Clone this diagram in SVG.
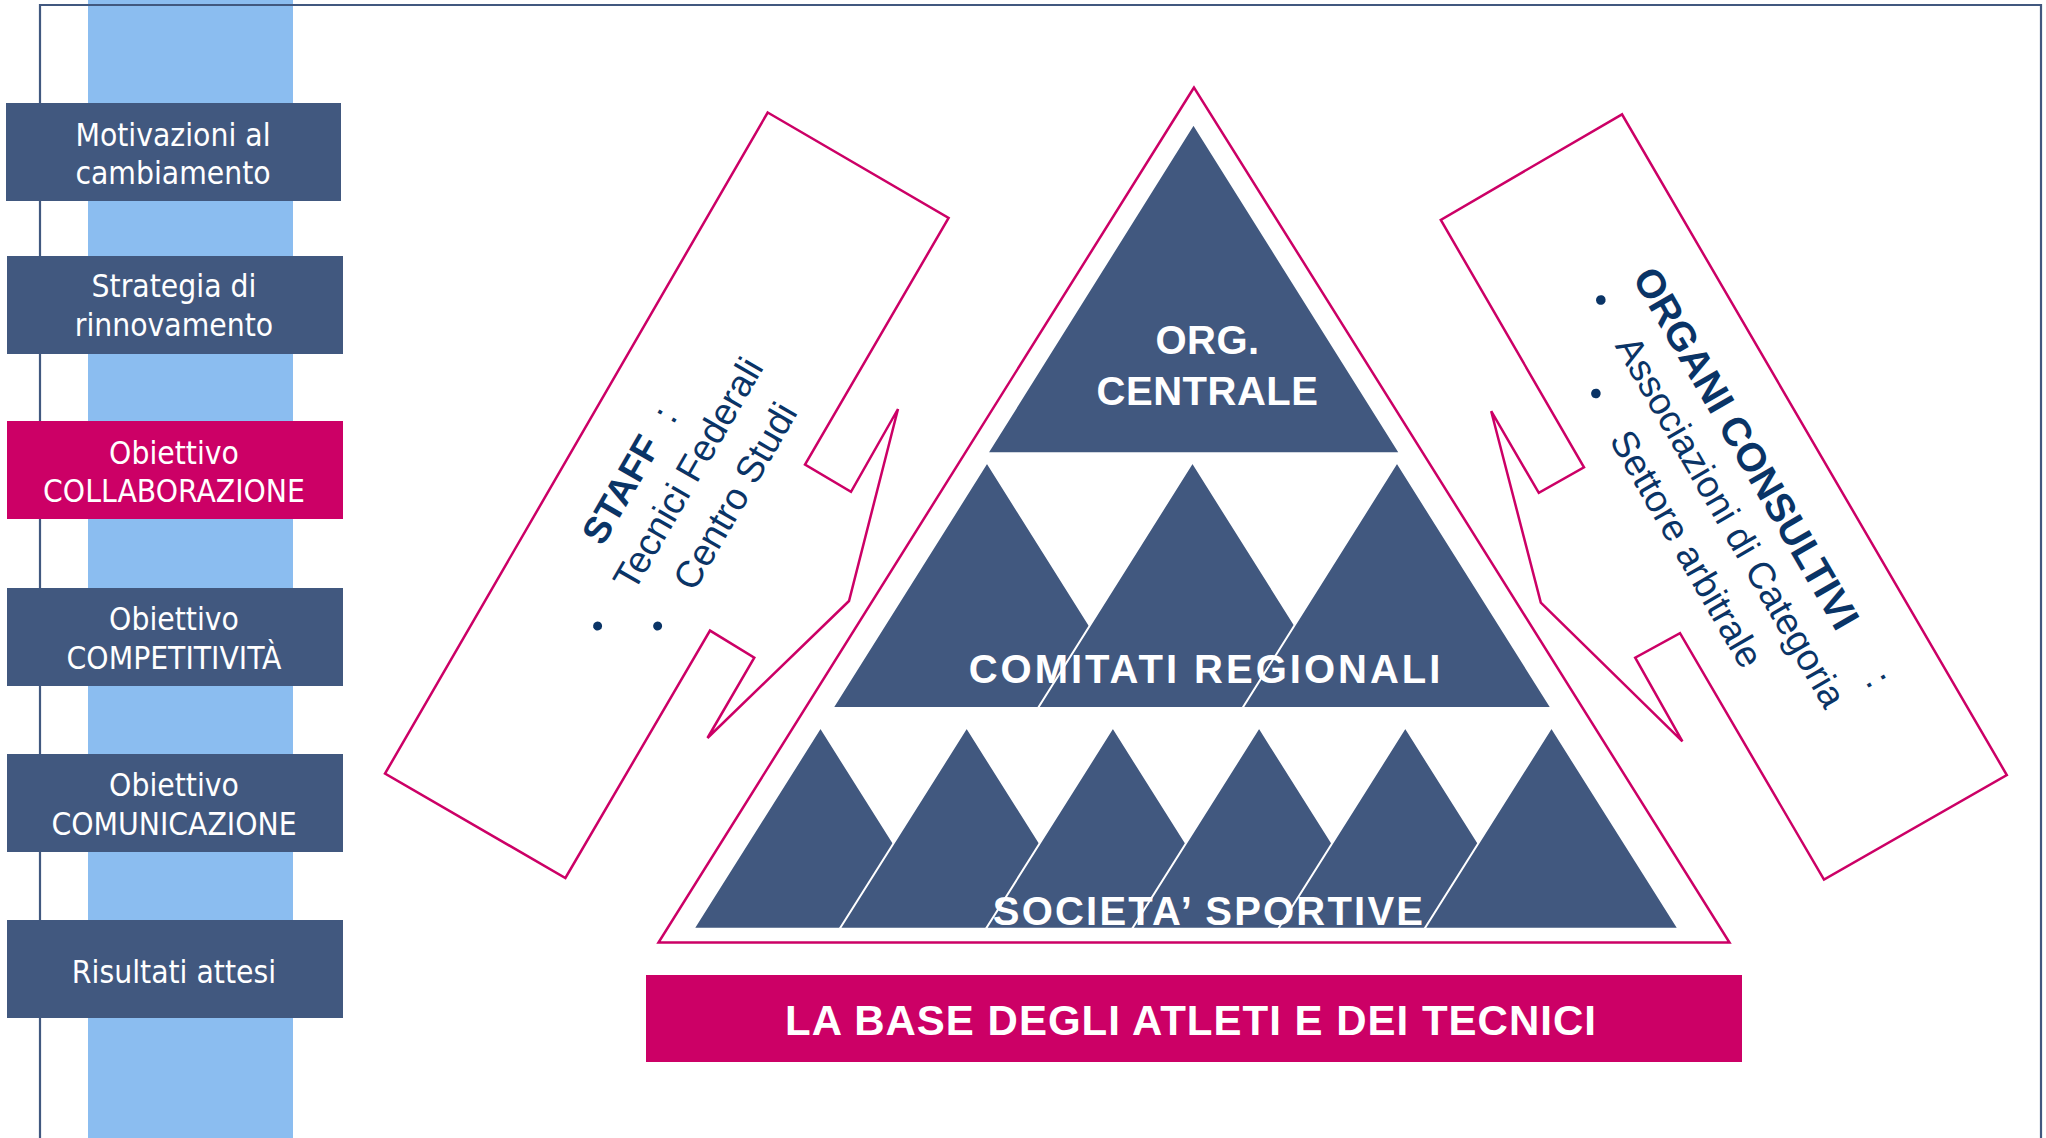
<svg xmlns="http://www.w3.org/2000/svg" width="2046" height="1138" viewBox="0 0 2046 1138">
<style>
.bg{fill:#ffffff}
.band{fill:#8BBDF0}
.frame{fill:none;stroke:#41587F;stroke-width:2.2}
.box{fill:#41587F}
.hl{fill:#CC0066}
.boxtxt{font-family:"DejaVu Sans Condensed","DejaVu Sans","Liberation Sans",sans-serif;font-stretch:condensed;font-size:31.5px;fill:#ffffff;text-anchor:middle}
.tri{fill:#41587F;stroke:#ffffff;stroke-width:2;stroke-linejoin:miter}
.outer{fill:none;stroke:#CC0066;stroke-width:2.5;stroke-linejoin:miter}
.pyr{font-family:"Liberation Sans",Arial,sans-serif;font-weight:bold;font-size:40px;fill:#ffffff;text-anchor:middle}
.callout{fill:none;stroke:#CC0066;stroke-width:2.5;stroke-linejoin:miter}
.ct{font-family:"Liberation Sans",Arial,sans-serif;font-size:37.5px;fill:#0A3466}
.ctb{font-weight:bold}
.dot{fill:#0A3466}
.bar{fill:#CC0066}
.bartxt{font-family:"Liberation Sans",Arial,sans-serif;font-weight:bold;font-size:42px;fill:#ffffff;text-anchor:middle;letter-spacing:1px}
</style>
<rect class="bg" x="0" y="0" width="2046" height="1138"/>
<rect class="band" x="88" y="0" width="205" height="1138"/>
<g id="connectors">
  <path class="frame" d="M40,1138 V5 H2041 V1138"/>
</g>

<g id="step-motivazioni">
  <rect class="box" x="6" y="103" width="335" height="98"/>
  <text class="boxtxt" x="173" y="146">Motivazioni al</text>
  <text class="boxtxt" x="173" y="184">cambiamento</text>
</g>
<g id="step-strategia">
  <rect class="box" x="7" y="256" width="336" height="98"/>
  <text class="boxtxt" x="174" y="297">Strategia di</text>
  <text class="boxtxt" x="174" y="336">rinnovamento</text>
</g>
<g id="step-collaborazione">
  <rect class="hl" x="7" y="421" width="336" height="98"/>
  <text class="boxtxt" x="174" y="464">Obiettivo</text>
  <text class="boxtxt" x="174" y="502">COLLABORAZIONE</text>
</g>
<g id="step-competitivita">
  <rect class="box" x="7" y="588" width="336" height="98"/>
  <text class="boxtxt" x="174" y="630">Obiettivo</text>
  <text class="boxtxt" x="174" y="669">COMPETITIVITÀ</text>
</g>
<g id="step-comunicazione">
  <rect class="box" x="7" y="754" width="336" height="98"/>
  <text class="boxtxt" x="174" y="796">Obiettivo</text>
  <text class="boxtxt" x="174" y="835">COMUNICAZIONE</text>
</g>
<g id="step-risultati">
  <rect class="box" x="7" y="920" width="336" height="98"/>
  <text class="boxtxt" x="174" y="983">Risultati attesi</text>
</g>

<g id="pyramid-outline">
  <polygon class="outer" points="1194,87.5 658.5,942.5 1729.5,942.5"/>
</g>

<g id="org-centrale">
  <polygon class="tri" points="1193.5,124 987.3,453.3 1400,453.3"/>
  <text class="pyr" x="1207.5" y="354" letter-spacing="0.5">ORG.</text>
  <text class="pyr" x="1207.5" y="405" letter-spacing="0.5">CENTRALE</text>
</g>

<g id="comitati-regionali">
  <polygon class="tri" points="987,462.3 832.5,708 1141.5,708"/>
  <polygon class="tri" points="1192.5,462.3 1038,708 1347,708"/>
  <polygon class="tri" points="1397,462.3 1242.5,708 1551.5,708"/>
  <text class="pyr" x="1206" y="683" letter-spacing="3">COMITATI REGIONALI</text>
</g>

<g id="societa-sportive">
  <polygon class="tri" points="820.5,727.3 693.5,928.7 947.5,928.7"/>
  <polygon class="tri" points="966.7,727.3 839.7,928.7 1093.7,928.7"/>
  <polygon class="tri" points="1112.9,727.3 985.9,928.7 1239.9,928.7"/>
  <polygon class="tri" points="1259.1,727.3 1132.1,928.7 1386.1,928.7"/>
  <polygon class="tri" points="1405.3,727.3 1278.3,928.7 1532.3,928.7"/>
  <polygon class="tri" points="1551.5,727.3 1424.5,928.7 1678.5,928.7"/>
  <text class="pyr" x="1209" y="925" letter-spacing="2.2">SOCIETA’ SPORTIVE</text>
</g>

<g id="staff">
  <polygon class="callout" points="767.7,112.5 948.6,218 805,464.5 851,491.8 898,409 849,601 707.5,738 754.3,657.7 710,630.6 565.4,878 385,773.6"/>
  <g transform="translate(597.6,626) rotate(-60)">
    <circle class="dot" cx="0" cy="0" r="4.5"/>
    <circle class="dot" cx="30" cy="52" r="4.5"/>
    <text class="ct" x="71" y="-35"><tspan class="ctb">STAFF</tspan><tspan x="201"> :</tspan></text>
    <text class="ct" x="47" y="15">Tecnici Federali</text>
    <text class="ct" x="77" y="67">Centro Studi</text>
  </g>
</g>

<g id="organi-consultivi">
  <polygon class="callout" points="1622,114.3 1440.8,219.9 1584,467.3 1538.8,492.9 1491.2,411.2 1540.8,602.6 1682.4,741.3 1635.2,657.7 1680,633.2 1824,879.6 2006.8,775"/>
  <g transform="translate(1600.8,300) rotate(60)">
    <circle class="dot" cx="0" cy="0" r="4.8"/>
    <circle class="dot" cx="78.5" cy="51" r="4.8"/>
    <text class="ct" x="-4" y="-38"><tspan class="ctb" font-size="40">ORGANI CONSULTIVI</tspan><tspan x="452"> :</tspan></text>
    <text class="ct" x="46.6" y="11" font-size="38">Associazioni di Categoria</text>
    <text class="ct" x="125" y="63" font-size="38">Settore arbitrale</text>
  </g>
</g>

<g id="base-atleti">
  <rect class="bar" x="646" y="975" width="1096" height="87"/>
  <text class="bartxt" x="1191" y="1035">LA BASE DEGLI ATLETI E DEI TECNICI</text>
</g>
</svg>
